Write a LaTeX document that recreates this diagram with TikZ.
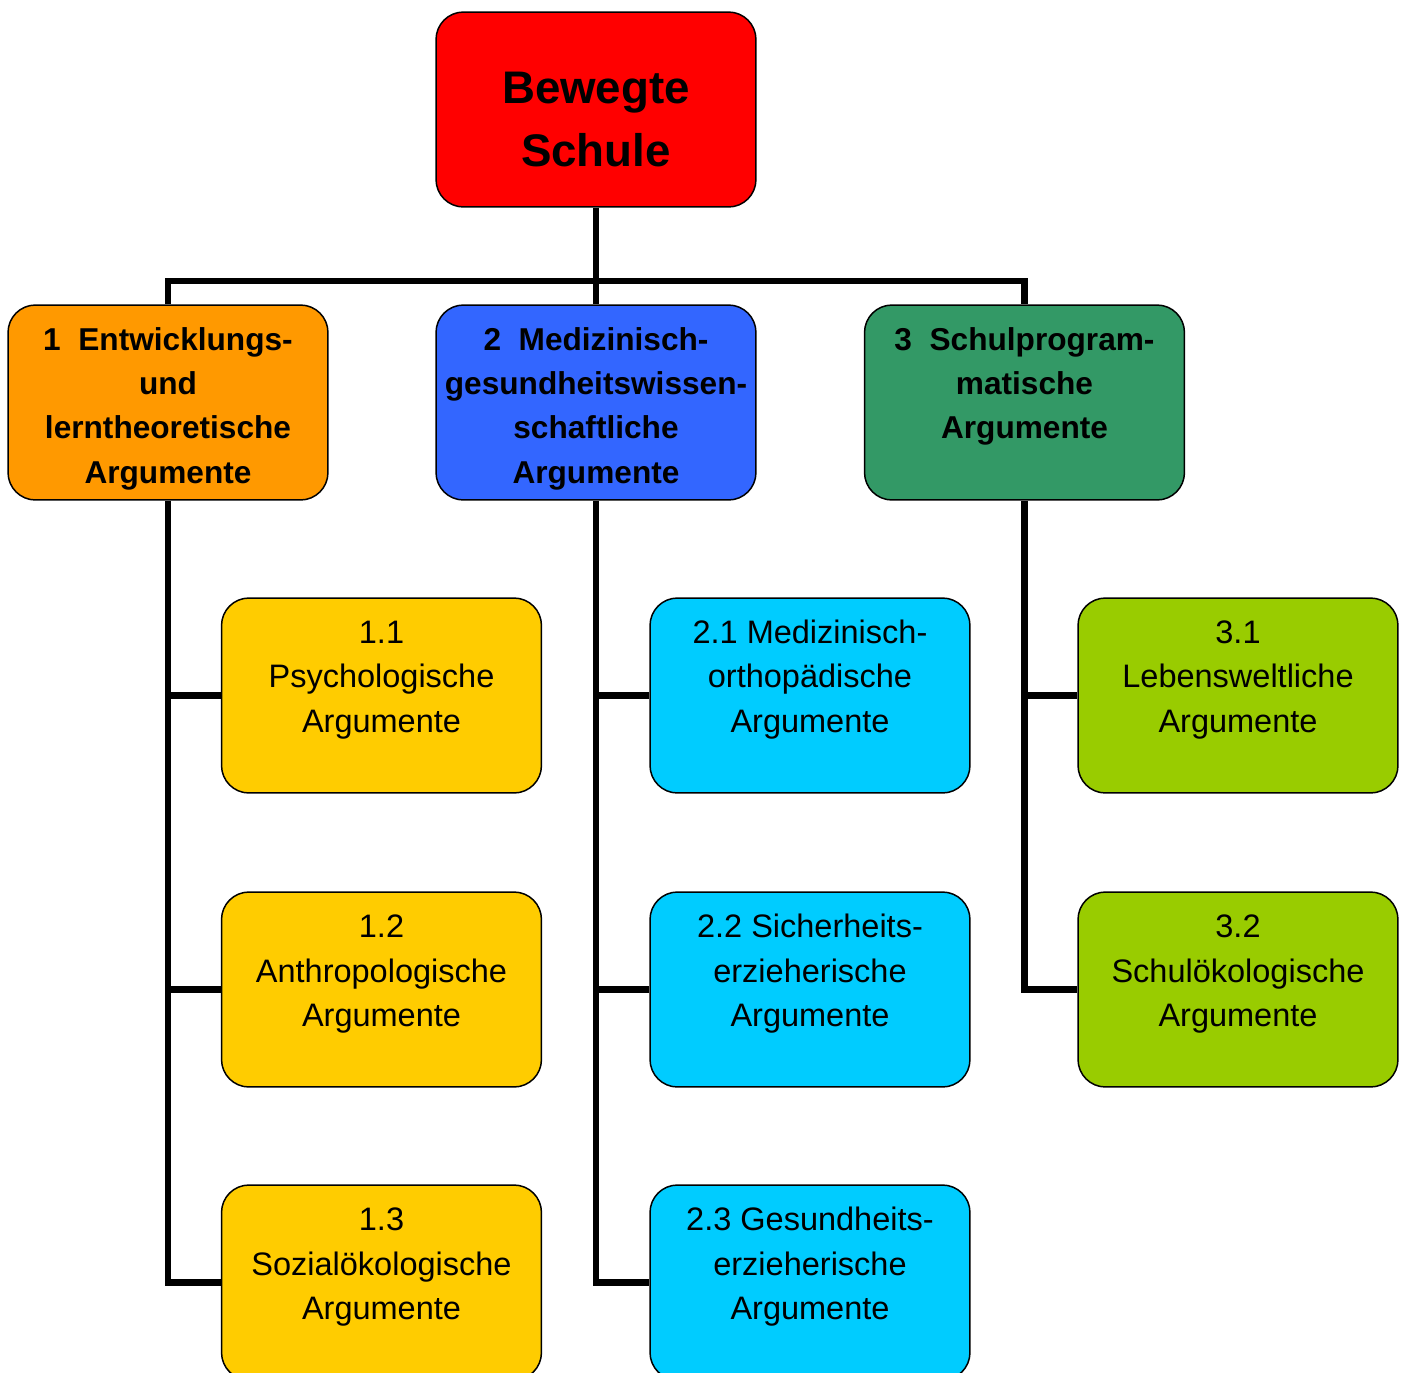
\documentclass[tikz,border=0pt]{standalone}
\usepackage{fontspec}
\setmainfont{Liberation Sans}
\usetikzlibrary{positioning}
\definecolor{rot}{HTML}{FF0000}
\definecolor{orange1}{HTML}{FF9900}
\definecolor{blau1}{HTML}{3366FF}
\definecolor{gruen1}{HTML}{339966}
\definecolor{gelb1}{HTML}{FFCC00}
\definecolor{hellblau}{HTML}{00CCFF}
\definecolor{gelbgruen}{HTML}{99CC00}
\newcommand{\Kasten}[2]{\parbox[c][3.9cm][t]{6.4cm}{\centering\rule{0pt}{#1}#2}}

\begin{document}
\begin{tikzpicture}[x=0.02cm,y=-0.02cm,
  box/.style={draw,line width=0.85pt,rounded corners=0.55cm,inner sep=0pt},
  head/.style={box,font=\fontsize{18}{25.3}\selectfont\bfseries},
  sub/.style={box,font=\fontsize{18.5}{25.6}\selectfont},
  link/.style={line width=3.6pt}]
\useasboundingbox (0,0) rectangle (1404,1373);
\node[box,fill=rot,font=\fontsize{26}{36.3}\selectfont\bfseries] (schule) at (596,109.5) {\Kasten{1.82cm}{Bewegte\\Schule}};
% Argumentgruppen
\node[head,fill=orange1] (e1) at (168,402.5) {\Kasten{0.9cm}{1\ \ Entwicklungs-\\und\\lerntheoretische\\Argumente}};
\node[head,fill=blau1] (e2) at (596,402.5) {\Kasten{0.9cm}{2\ \ Medizinisch-\\gesundheitswissen-\\schaftliche\\Argumente}};
\node[head,fill=gruen1] (e3) at (1024.5,402.5) {\Kasten{0.9cm}{3\ \ Schulprogram-\\matische\\Argumente}};
% Einzelargumente
\node[sub,fill=gelb1] (k11) at (381.5,695.5) {\Kasten{0.9cm}{1.1\\Psychologische\\Argumente}};
\node[sub,fill=gelb1] (k12) at (381.5,989.5) {\Kasten{0.9cm}{1.2\\Anthropologische\\Argumente}};
\node[sub,fill=gelb1] (k13) at (381.5,1282.5) {\Kasten{0.9cm}{1.3\\Sozialökologische\\Argumente}};
\node[sub,fill=hellblau] (k21) at (810,695.5) {\Kasten{0.9cm}{2.1 Medizinisch-\\orthopädische\\Argumente}};
\node[sub,fill=hellblau] (k22) at (810,989.5) {\Kasten{0.9cm}{2.2 Sicherheits-\\erzieherische\\Argumente}};
\node[sub,fill=hellblau] (k23) at (810,1282.5) {\Kasten{0.9cm}{2.3 Gesundheits-\\erzieherische\\Argumente}};
\node[sub,fill=gelbgruen] (k31) at (1238,695.5) {\Kasten{0.9cm}{3.1\\Lebensweltliche\\Argumente}};
\node[sub,fill=gelbgruen] (k32) at (1238,989.5) {\Kasten{0.9cm}{3.2\\Schulökologische\\Argumente}};
% Verbindungen
\coordinate (bus) at (596,281);
\draw[link] (schule.south) -- (e2.north);
\draw[link] (e1.north) |- (bus) -| (e3.north);
\draw[link] (e1.south) |- (k13.west);
\draw[link] (k11.west) -- (k11.west -| e1.south);
\draw[link] (k12.west) -- (k12.west -| e1.south);
\draw[link] (e2.south) |- (k23.west);
\draw[link] (k21.west) -- (k21.west -| e2.south);
\draw[link] (k22.west) -- (k22.west -| e2.south);
\draw[link] (e3.south) |- (k32.west);
\draw[link] (k31.west) -- (k31.west -| e3.south);
\end{tikzpicture}
\end{document}
